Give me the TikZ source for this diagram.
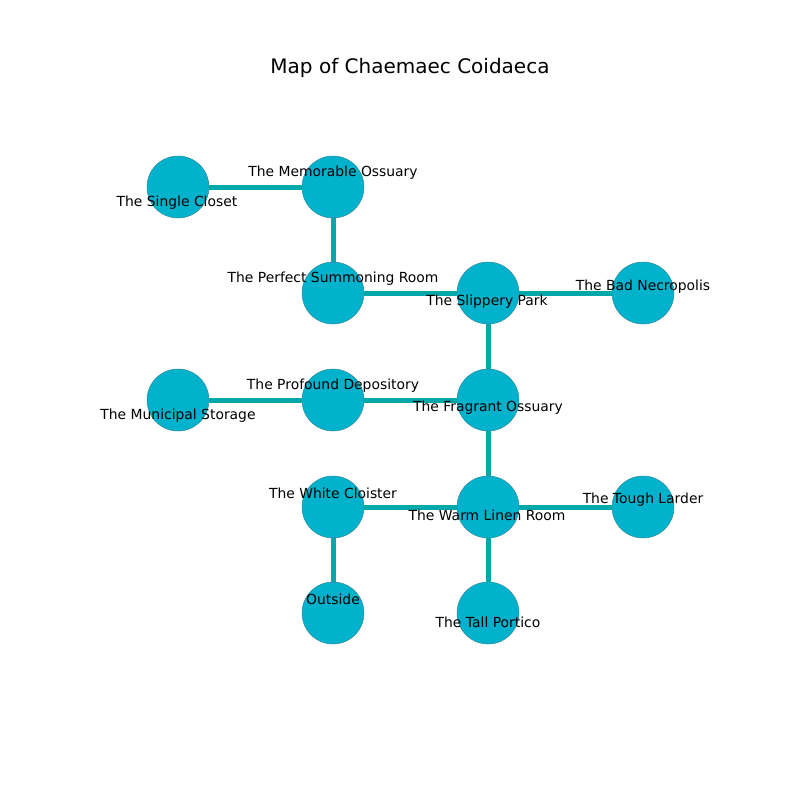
\documentclass[tikz,border=0pt]{standalone}
\usepackage{fontspec}
\setmainfont{DejaVu Sans}
\definecolor{nodefill}{HTML}{00B2CC}
\definecolor{nodeline}{HTML}{2E8C9A}
\definecolor{edgecol}{HTML}{00A8A8}
\begin{document}
\begin{tikzpicture}[x=0.72pt,y=-0.72pt,
  room/.style={circle,fill=nodefill,draw=nodeline,line width=0.4pt,minimum size=44.6pt,inner sep=0pt},
  lbl/.style={inner sep=0pt,font=\fontsize{10}{12}\selectfont,text=black},
  link/.style={draw=edgecol,line width=3.6pt}]
\useasboundingbox (0,0) rectangle (800,800);
\node[font=\fontsize{14.4}{17}\selectfont] (title) at (410,68) {Map of Chaemaec Coidaeca};
\node[room] (sc) at (178,187) {};
\node[room] (mo) at (333,187) {};
\node[room] (ps) at (333,293) {};
\node[room] (sp) at (488,293) {};
\node[room] (bn) at (643,293) {};
\node[room] (ms) at (178,400) {};
\node[room] (pd) at (333,400) {};
\node[room] (fo) at (488,400) {};
\node[room] (wc) at (333,507) {};
\node[room] (wl) at (488,507) {};
\node[room] (tl) at (643,507) {};
\node[room] (ou) at (333,613) {};
\node[room] (tp) at (488,613) {};
\draw[link] (sc) -- (mo);
\draw[link] (mo) -- (ps);
\draw[link] (ps) -- (sp);
\draw[link] (sp) -- (bn);
\draw[link] (sp) -- (fo);
\draw[link] (ms) -- (pd);
\draw[link] (pd) -- (fo);
\draw[link] (fo) -- (wl);
\draw[link] (wc) -- (wl);
\draw[link] (wl) -- (tl);
\draw[link] (wc) -- (ou);
\draw[link] (wl) -- (tp);
\node[lbl] (lsc) at (177,203) {The Single Closet};
\node[lbl] (lmo) at (333,173) {The Memorable Ossuary};
\node[lbl] (lps) at (333,279) {The Perfect Summoning Room};
\node[lbl] (lsp) at (487,302) {The Slippery Park};
\node[lbl] (lbn) at (643,287) {The Bad Necropolis};
\node[lbl] (lms) at (178,416) {The Municipal Storage};
\node[lbl] (lpd) at (333,386) {The Profound Depository};
\node[lbl] (lfo) at (488,408) {The Fragrant Ossuary};
\node[lbl] (lwc) at (333,493) {The White Cloister};
\node[lbl] (lwl) at (487,515) {The Warm Linen Room};
\node[lbl] (ltl) at (643,500) {The Tough Larder};
\node[lbl] (lou) at (333,599) {Outside};
\node[lbl] (ltp) at (488,622) {The Tall Portico};
\end{tikzpicture}
\end{document}
